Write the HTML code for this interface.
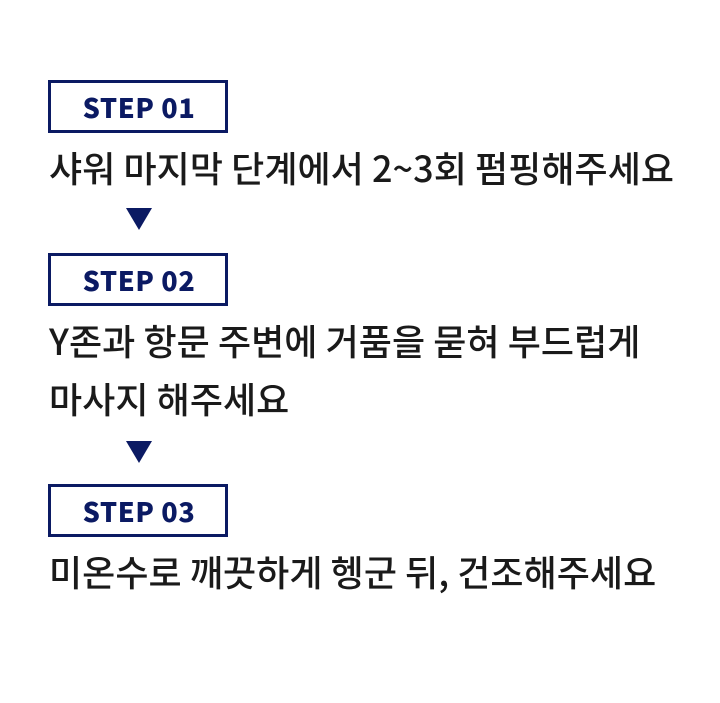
<!DOCTYPE html>
<html><head><meta charset="utf-8"><style>
html,body{margin:0;padding:0;background:#fff;}
body{width:720px;height:703px;position:relative;overflow:hidden;font-family:"Liberation Sans","Noto Sans CJK KR",sans-serif;}
.box{position:absolute;left:48px;width:174px;height:47px;border:3px solid #0b1a63;color:#0b1a63;font-family:"Noto Sans CJK KR","Liberation Sans",sans-serif;font-weight:900;font-size:27px;line-height:47px;text-align:center;letter-spacing:0.6px;text-indent:2px;}
.t{position:absolute;left:49px;font-family:"Noto Sans CJK KR",sans-serif;font-weight:500;font-size:36px;color:#1a1a1a;line-height:40px;white-space:nowrap;letter-spacing:0.05px;}
.arr{position:absolute;left:126px;width:0;height:0;border-left:13px solid transparent;border-right:13px solid transparent;border-top:22px solid #0b1a63;}
</style></head><body>
<div class="box" style="top:80px">STEP 01</div>
<div class="t" style="top:147px">샤워 마지막 단계에서 2~3회 펌핑해주세요</div>
<div class="arr" style="top:208px"></div>
<div class="box" style="top:253px">STEP 02</div>
<div class="t" style="top:320px">Y존과 항문 주변에 거품을 묻혀 부드럽게</div>
<div class="t" style="top:378px">마사지 해주세요</div>
<div class="arr" style="top:441px"></div>
<div class="box" style="top:484px">STEP 03</div>
<div class="t" style="top:551px">미온수로 깨끗하게 헹군 뒤, 건조해주세요</div>
</body></html>
